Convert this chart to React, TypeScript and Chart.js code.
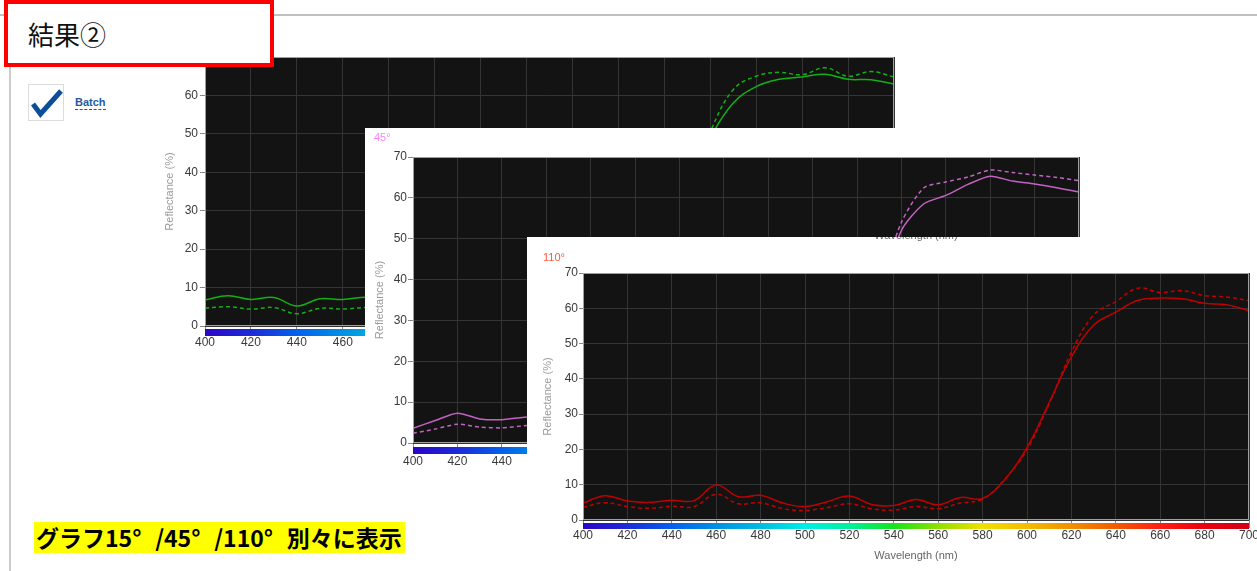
import React, { useEffect, useRef } from "react";
import { Chart, registerables } from "chart.js";

Chart.register(...registerables);
Chart.defaults.font.family = "'Liberation Sans', Arial, sans-serif";

// ---------- data ----------
const wavelengths = [400, 410, 420, 430, 440, 450, 460, 470, 480, 490, 500, 510, 520, 530, 540, 550, 560, 570, 580, 590, 600, 610, 620, 630, 640, 650, 660, 670, 680, 690, 700];

const r15Solid = [6.8, 7.9, 6.9, 7.4, 5.2, 7.1, 6.9, 7.5, 7.0, 6.5, 6.0, 6.5, 7.0, 6.5, 6.0, 6.5, 6.0, 7.0, 8.5, 14, 24, 37, 49, 58, 62.3, 64.2, 64.8, 65.5, 64.2, 64.1, 63.0];
const r15Dashed = [4.7, 5.0, 4.4, 4.8, 3.2, 4.6, 4.4, 4.8, 4.5, 4.2, 3.8, 4.2, 4.6, 4.2, 3.9, 4.3, 3.9, 4.8, 6.5, 12, 22, 35, 50.5, 61.5, 65.0, 66.0, 65.4, 67.2, 65.0, 66.2, 64.8];

const r45Solid = [3.6, 5.5, 7.3, 5.9, 5.7, 6.3, 6.5, 6.0, 6.2, 5.6, 5.0, 5.6, 6.2, 5.5, 5.0, 5.5, 5.0, 5.8, 7.0, 12, 22, 36, 52, 58.5, 60.6, 63.3, 65.3, 64.1, 63.4, 62.5, 61.4];
const r45Dashed = [2.4, 3.4, 4.6, 3.9, 3.7, 4.2, 4.6, 4.1, 4.3, 3.8, 3.3, 3.8, 4.3, 3.7, 3.3, 3.7, 3.3, 4.0, 5.2, 10, 22, 38, 54, 62.4, 63.9, 65.1, 66.8, 66.2, 65.6, 65.0, 64.2];

const r110Solid = [4.8, 6.9, 5.4, 5.0, 5.6, 5.5, 9.9, 6.6, 7.0, 4.8, 3.8, 5.2, 6.8, 4.4, 4.1, 5.8, 4.3, 6.4, 6.1, 11.4, 20.5, 33.3, 46.2, 55.2, 58.9, 62.3, 62.9, 62.7, 61.4, 61.0, 59.3];
const r110Dashed = [3.6, 4.9, 3.8, 3.3, 3.9, 3.8, 7.3, 4.6, 4.9, 3.2, 2.7, 3.5, 4.6, 3.2, 2.8, 3.8, 3.2, 4.8, 5.9, 11.6, 20.0, 32.9, 47.6, 58.1, 61.9, 65.7, 64.5, 65.0, 63.6, 63.2, 62.2];

const xMin = 400;
const xMax = 700;
const xStep = 20;
const yMin = 0;
const yMax = 70;
const yStep = 10;

const xTitle = "Wavelength (nm)";
const yTitle = "Reflectance (%)";

// spectrum bar (decoration)
const spectrumNm = [400, 420, 440, 460, 480, 500, 520, 540, 560, 580, 600, 620, 640, 660, 680, 700];
const spectrumColors = ["#2b06c6", "#1c2ad8", "#0560ec", "#0090e4", "#00bce0", "#00eee6", "#00f09c", "#14e41c", "#90e000", "#f0e000", "#f2bc00", "#f09000", "#f05c00", "#ff1e14", "#e80010", "#d20014"];

// ---------- plugin ----------
const plotDecor = {
  id: "plotDecor",
  beforeDraw(chart: any) {
    const { ctx, chartArea: a } = chart;
    ctx.save();
    ctx.fillStyle = "#131313";
    ctx.fillRect(a.left, a.top, a.right - a.left, a.bottom - a.top);
    ctx.restore();
  },
  afterDraw(chart: any, _args: any, opts: any) {
    const { ctx, chartArea: a, scales } = chart;
    const xs = scales.x;
    ctx.save();
    ctx.strokeStyle = "#a0a0a0";
    ctx.lineWidth = 1;
    ctx.strokeRect(a.left + 0.5, a.top + 0.5, a.right - a.left - 1, a.bottom - a.top - 1);
    const g = ctx.createLinearGradient(xs.left, 0, xs.right, 0);
    spectrumNm.forEach((nm, i) => {
      g.addColorStop((nm - xMin) / (xMax - xMin), spectrumColors[i]);
    });
    ctx.fillStyle = g;
    ctx.fillRect(xs.left, a.bottom + (opts.barGap ?? 3), xs.right - xs.left, opts.barHeight ?? 6);
    ctx.restore();
  },
};

type Cfg = {
  left: number;
  top: number;
  width: number;
  height: number;
  padLeft: number;
  padTop: number;
  yAxisW: number;
  xAxisH: number;
  yTickLen: number;
  yTickPad: number;
  xTickLen: number;
  barGap: number;
  barHeight: number;
  xTitlePadBottom: number;
  color: string;
  tension: number;
  solid: number[];
  dashed: number[];
  tickFont: number;
};

function SpectrumChart({ cfg }: { cfg: Cfg }) {
  const ref = useRef<HTMLCanvasElement | null>(null);
  useEffect(() => {
    if (!ref.current) return;
    const mk = (arr: number[]) => wavelengths.map((w, i) => ({ x: w, y: arr[i] }));
    const chart = new Chart(ref.current, {
      type: "line",
      data: {
        datasets: [
          {
            data: mk(cfg.solid),
            borderColor: cfg.color,
            borderWidth: 1.5,
            pointRadius: 0,
            tension: cfg.tension,
            fill: false,
          },
          {
            data: mk(cfg.dashed),
            borderColor: cfg.color,
            borderWidth: 1.5,
            borderDash: [4, 3],
            pointRadius: 0,
            tension: cfg.tension,
            fill: false,
          },
        ],
      },
      options: {
        responsive: false,
        animation: false,
        events: [],
        layout: { padding: { left: cfg.padLeft, top: cfg.padTop, right: 20, bottom: 0 } },
        plugins: {
          legend: { display: false },
          tooltip: { enabled: false },
          title: { display: false },
          plotDecor: { barGap: cfg.barGap, barHeight: cfg.barHeight },
        } as any,
        scales: {
          x: {
            type: "linear",
            min: xMin,
            max: xMax,
            ticks: {
              stepSize: xStep,
              autoSkip: false,
              maxRotation: 0,
              padding: 0,
              color: "#3a3a3a",
              font: { size: cfg.tickFont },
            },
            grid: { color: "#343434", tickColor: "#888", tickLength: cfg.xTickLen },
            border: { display: false },
            title: {
              display: true,
              text: xTitle,
              color: "#666",
              font: { size: 11 },
              padding: { top: 0, bottom: cfg.xTitlePadBottom },
            },
            afterFit: (s: any) => {
              s.height = cfg.xAxisH;
            },
          },
          y: {
            min: yMin,
            max: yMax,
            ticks: {
              stepSize: yStep,
              padding: cfg.yTickPad,
              color: "#3a3a3a",
              font: { size: cfg.tickFont },
            },
            grid: { color: "#343434", tickColor: "#888", tickLength: cfg.yTickLen },
            border: { display: false },
            title: {
              display: true,
              text: yTitle,
              color: "#9a9a9a",
              font: { size: 11 },
              padding: 0,
            },
            afterFit: (s: any) => {
              s.width = cfg.yAxisW;
            },
          },
        },
      } as any,
      plugins: [plotDecor],
    });
    return () => chart.destroy();
  }, []);
  return (
    <div
      style={{
        position: "absolute",
        left: cfg.left,
        top: cfg.top,
        width: cfg.width,
        height: cfg.height,
        background: "#fff",
      }}
    >
      <canvas ref={ref} width={cfg.width} height={cfg.height} style={{ display: "block" }} />
    </div>
  );
}

const chart15: Cfg = {
  left: 150, top: 47, width: 764, height: 340,
  padLeft: 13.4, padTop: 10, yAxisW: 41.6, xAxisH: 61,
  yTickLen: 5, yTickPad: 2, xTickLen: 9, barGap: 3, barHeight: 7,
  xTitlePadBottom: 20, color: "#12b012", tension: 0.4,
  solid: r15Solid, dashed: r15Dashed, tickFont: 12,
};
const chart45: Cfg = {
  left: 365, top: 128, width: 734, height: 372,
  padLeft: 8.4, padTop: 29, yAxisW: 39.6, xAxisH: 57,
  yTickLen: 5, yTickPad: 1, xTickLen: 11, barGap: 4, barHeight: 7,
  xTitlePadBottom: 18, color: "#c462c4", tension: 0.25,
  solid: r45Solid, dashed: r45Dashed, tickFont: 12,
};
const chart110: Cfg = {
  left: 527, top: 237, width: 742, height: 334,
  padLeft: 14.4, padTop: 36, yAxisW: 41.6, xAxisH: 51,
  yTickLen: 4, yTickPad: 1, xTickLen: 8, barGap: 3, barHeight: 6,
  xTitlePadBottom: 8.4, color: "#c00000", tension: 0.4,
  solid: r110Solid, dashed: r110Dashed, tickFont: 12,
};

const deg: React.CSSProperties = { display: "inline-block", width: "1em" };

export default function App() {
  return (
    <div
      style={{
        position: "absolute",
        left: 0,
        top: 0,
        width: 1257,
        height: 571,
        overflow: "hidden",
        background: "#fff",
        fontFamily: "'Liberation Sans', Arial, sans-serif",
      }}
    >
      {/* frame lines */}
      <div style={{ position: "absolute", left: 0, top: 14, width: 1257, height: 2, background: "#c0c0c0" }} />
      <div style={{ position: "absolute", left: 9, top: 15, width: 2, height: 556, background: "#cccccc" }} />

      {/* batch checkbox */}
      <svg style={{ position: "absolute", left: 28, top: 84 }} width={36} height={37}>
        <rect x={0.5} y={0.5} width={35} height={36} fill="#fff" stroke="#dcdcdc" />
        <polyline points="5,20 12.5,30 33,7" fill="none" stroke="#0c4e9c" strokeWidth={5} strokeLinejoin="miter" />
      </svg>
      <div
        style={{
          position: "absolute",
          left: 75,
          top: 96,
          fontSize: 11,
          fontWeight: "bold",
          color: "#1f5aa0",
          lineHeight: "13px",
          borderBottom: "1px dashed #1f5aa0",
        }}
      >
        Batch
      </div>

      <SpectrumChart cfg={chart15} />

      {/* title box */}
      <div
        style={{
          position: "absolute",
          left: 4,
          top: 0,
          width: 270,
          height: 67,
          boxSizing: "border-box",
          border: "4px solid #ff0000",
          background: "#fff",
        }}
      >
        <div
          style={{
            position: "absolute",
            left: 20,
            top: 17,
            fontSize: 26,
            lineHeight: "26px",
            color: "#111",
            fontFamily: "'Noto Sans CJK JP', sans-serif",
          }}
        >
          結果②
        </div>
      </div>

      <SpectrumChart cfg={chart45} />
      <div style={{ position: "absolute", left: 374, top: 131, fontSize: 11, lineHeight: "13px", color: "#ff80ff" }}>45°</div>

      <SpectrumChart cfg={chart110} />
      <div style={{ position: "absolute", left: 543, top: 251, fontSize: 11, lineHeight: "13px", color: "#ff5a3c" }}>110°</div>
      <div style={{ position: "absolute", left: 866, top: 237, width: 100, height: 4, overflow: "hidden" }}>
        <div style={{ position: "absolute", left: 0, top: -8, width: 100, textAlign: "center", fontSize: 11, lineHeight: "13px", color: "#666" }}>
          {xTitle}
        </div>
      </div>

      {/* yellow caption */}
      <div
        style={{
          position: "absolute",
          left: 34,
          top: 522,
          height: 31,
          padding: "0 3px 0 2px",
          background: "#ffff00",
          fontSize: 23,
          fontWeight: "bold",
          lineHeight: "31px",
          color: "#000",
          whiteSpace: "nowrap",
          fontFamily: "'Noto Sans CJK JP', sans-serif",
        }}
      >
        グラフ15<span style={deg}>°</span>/45<span style={deg}>°</span>/110<span style={deg}>°</span>別々に表示
      </div>
    </div>
  );
}
